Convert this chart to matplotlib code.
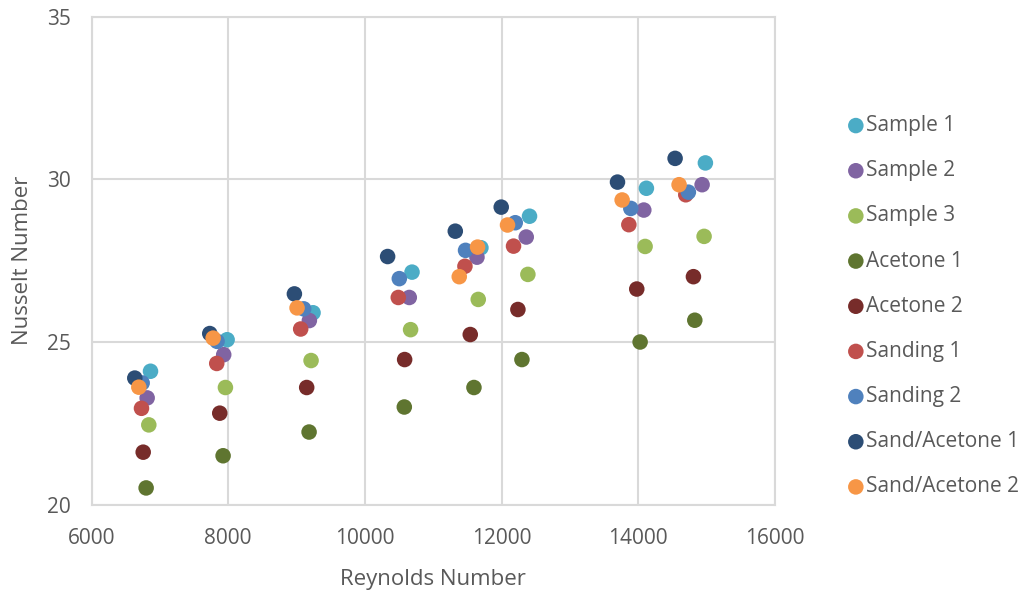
import matplotlib
matplotlib.use('Agg')
import matplotlib.pyplot as plt

# series (Reynolds number, Nusselt number)
labels = ['Sample 1', 'Sample 2', 'Sample 3', 'Acetone 1', 'Acetone 2',
          'Sanding 1', 'Sanding 2', 'Sand/Acetone 1', 'Sand/Acetone 2']

re_sample1 = [6863, 7984, 9241, 10689, 11697, 12408, 14118, 14981]
nu_sample1 = [24.10, 25.07, 25.90, 27.15, 27.90, 28.87, 29.73, 30.51]

re_sample2 = [6814, 7934, 9187, 10649, 11639, 12360, 14080, 14933]
nu_sample2 = [23.28, 24.61, 25.66, 26.37, 27.61, 28.23, 29.06, 29.84]

re_sample3 = [6838, 7959, 9212, 10668, 11658, 12384, 14099, 14962]
nu_sample3 = [22.45, 23.60, 24.43, 25.38, 26.31, 27.08, 27.94, 28.25]

re_acetone1 = [6799, 7925, 9183, 10576, 11595, 12297, 14026, 14826]
nu_acetone1 = [20.51, 21.50, 22.23, 23.00, 23.60, 24.46, 25.00, 25.67]

re_acetone2 = [6756, 7876, 9148, 10581, 11541, 12238, 13977, 14806]
nu_acetone2 = [21.61, 22.81, 23.60, 24.46, 25.23, 26.00, 26.63, 27.01]

re_sanding1 = [6731, 7832, 9060, 10488, 11463, 12174, 13861, 14694]
nu_sanding1 = [22.96, 24.34, 25.40, 26.37, 27.33, 27.95, 28.61, 29.53]

re_sanding2 = [6741, 7837, 9104, 10503, 11472, 12199, 13890, 14732]
nu_sanding2 = [23.74, 25.02, 26.02, 26.95, 27.82, 28.67, 29.11, 29.61]

re_sandac1 = [6633, 7730, 8968, 10332, 11322, 11994, 13695, 14538]
nu_sandac1 = [23.89, 25.26, 26.48, 27.63, 28.41, 29.15, 29.92, 30.65]

re_sandac2 = [6692, 7779, 9007, 11380, 11648, 12086, 13763, 14596]
nu_sandac2 = [23.61, 25.12, 26.05, 27.01, 27.92, 28.60, 29.37, 29.84]

colors = ['#4BACC6', '#8064A2', '#9BBB59', '#5F7530', '#772C2A',
          '#C0504D', '#4F81BD', '#2C4D75', '#F79646']

xs = [re_sample1, re_sample2, re_sample3, re_acetone1, re_acetone2,
      re_sanding1, re_sanding2, re_sandac1, re_sandac2]
ys = [nu_sample1, nu_sample2, nu_sample3, nu_acetone1, nu_acetone2,
      nu_sanding1, nu_sanding2, nu_sandac1, nu_sandac2]

plt.rcParams['font.family'] = ['Open Sans', 'DejaVu Sans']
text_col = '#595959'
grid_col = '#D9D9D9'

fig = plt.figure(figsize=(10.26, 5.9), dpi=100)
ax = fig.add_axes([0.0892, 0.1449, 0.6662, 0.8263])

for i, (x, y) in enumerate(zip(xs, ys)):
    ax.scatter(x, y, s=125, color=colors[i], label=labels[i],
               edgecolors='none', zorder=3 + i)

ax.set_xlim(6000, 16000)
ax.set_ylim(20, 35)
ax.set_xticks([6000, 8000, 10000, 12000, 14000, 16000])
ax.set_yticks([20, 25, 30, 35])
ax.grid(True, color=grid_col, linewidth=1.5, zorder=0)
for s in ax.spines.values():
    s.set_color(grid_col)
    s.set_linewidth(1.5)
ax.tick_params(length=0, labelsize=15, colors=text_col)
ax.tick_params(axis='x', pad=17)
ax.tick_params(axis='y', pad=15)
ax.set_xlabel('Reynolds Number', fontsize=16, color=text_col, labelpad=14)
ax.set_ylabel('Nusselt Number', fontsize=16, color=text_col, labelpad=10)

leg = ax.legend(loc='upper left', bbox_to_anchor=(0.825, 0.805),
                bbox_transform=fig.transFigure, frameon=False,
                fontsize=15, labelspacing=1.16, handletextpad=0.05,
                handlelength=0.9, borderaxespad=0, borderpad=0)
for t in leg.get_texts():
    t.set_color(text_col)

plt.savefig('out.png', dpi=100)
plt.close()
